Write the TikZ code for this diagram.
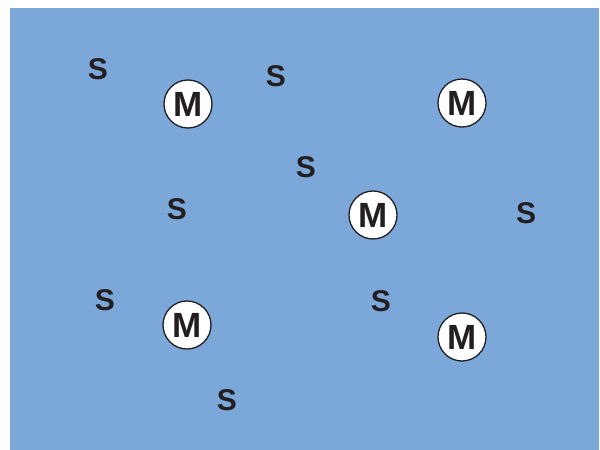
\documentclass[tikz,border=0pt]{standalone}
\usepackage{fontspec}
\setmainfont{Liberation Sans}
\definecolor{bg}{RGB}{123,167,217}
\definecolor{ink}{RGB}{35,31,32}
\begin{document}
\begin{tikzpicture}[x=1pt,y=-1pt,
  mnode/.style={circle,draw=ink,line width=1.3pt,fill=white,minimum size=48pt,inner sep=0pt,text=ink,font=\fontsize{35}{35}\selectfont\bfseries},
  snode/.style={inner sep=0pt,text=ink,font=\fontsize{30}{30}\selectfont\bfseries}]
\useasboundingbox (0,0) rectangle (600,450);
\fill[bg] (10,8) rectangle (599,450);
\node[mnode] (m1) at (188,104) {M};
\node[mnode] (m2) at (462,103) {M};
\node[mnode] (m3) at (373,215) {M};
\node[mnode] (m4) at (187,325) {M};
\node[mnode] (m5) at (462,337) {M};
\node[snode] (s1) at (98,69) {S};
\node[snode] (s2) at (276,76) {S};
\node[snode] (s3) at (306,167) {S};
\node[snode] (s4) at (177,209) {S};
\node[snode] (s5) at (526,213) {S};
\node[snode] (s6) at (105,300) {S};
\node[snode] (s7) at (381,301) {S};
\node[snode] (s8) at (227,400) {S};
\end{tikzpicture}
\end{document}
